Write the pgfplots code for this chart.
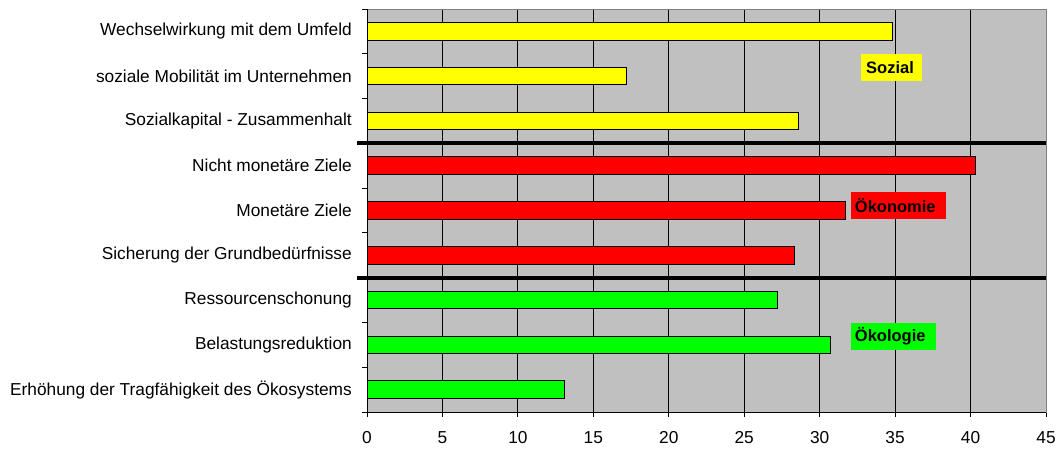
\documentclass[border=0pt]{standalone}
\usepackage{fontspec}
\setmainfont{Liberation Sans}
\usepackage{pgfplots}
\pgfplotsset{compat=1.18}
\definecolor{plotbg}{HTML}{C0C0C0}
\definecolor{sozial}{HTML}{FFFF00}
\definecolor{oekonomie}{HTML}{FF0000}
\definecolor{oekologie}{HTML}{00FF00}
\begin{document}
\begin{tikzpicture}[x=1pt,y=1pt]
\useasboundingbox (0,0) rectangle (1059,448);
\begin{axis}[
  at={(367pt,36pt)}, anchor=south west,
  scale only axis, width=679pt, height=403pt,
  xmin=0, xmax=45, ymin=0.5, ymax=9.5,
  clip=false,
  xbar, bar width=17.6pt, bar shift=0pt,
  axis background/.style={fill=plotbg},
  axis line style={draw=gray, line width=0.8pt},
  font=\fontsize{17.3}{20}\selectfont,
  /pgf/number format/assume math mode=true,
  xtick={0,5,...,45},
  xtick pos=bottom, ytick pos=left,
  tick align=outside, major tick length=5pt,
  tick style={black, line width=0.8pt},
  xmajorgrids, grid style={black, line width=0.8pt},
  xticklabel style={inner sep=0pt, yshift=-14pt},
  ytick={1,...,9},
  yticklabels={Erhöhung der Tragfähigkeit des Ökosystems, Belastungsreduktion, Ressourcenschonung, Sicherung der Grundbedürfnisse, Monetäre Ziele, Nicht monetäre Ziele, Sozialkapital - Zusammenhalt, soziale Mobilität im Unternehmen, Wechselwirkung mit dem Umfeld},
  yticklabel style={inner sep=0pt, xshift=-10pt},
  ytick style={draw=none},
  extra y ticks={0.5,1.5,...,9.5}, extra y tick labels={},
  extra y tick style={ytick style={draw=black, line width=0.8pt}},
]
% Ökologie
\addplot[draw=black, line width=1pt, fill=oekologie] coordinates {(13.1,1) (30.7,2) (27.2,3)};
% Ökonomie
\addplot[draw=black, line width=1pt, fill=oekonomie] coordinates {(28.3,4) (31.7,5) (40.3,6)};
% Sozial
\addplot[draw=black, line width=1pt, fill=sozial] coordinates {(28.6,7) (17.2,8) (34.8,9)};

% left and bottom axis lines in black
\draw[black, line width=0.8pt] (rel axis cs:0,1) -- (rel axis cs:0,0) -- (rel axis cs:1,0);
% group separators
\draw[black, line width=4pt] ([xshift=-10pt]axis cs:0,3.5) -- (axis cs:45,3.5);
\draw[black, line width=4pt] ([xshift=-10pt]axis cs:0,6.5) -- (axis cs:45,6.5);

% group labels
\node[fill=sozial, anchor=west, inner xsep=5pt, inner ysep=0pt, minimum height=27pt, text width=51pt, font=\bfseries\fontsize{16.5}{18}\selectfont] at (axis cs:32.74,8.19) {Sozial};
\node[fill=oekonomie, anchor=west, inner xsep=4pt, inner ysep=0pt, minimum height=27pt, text width=87pt, font=\bfseries\fontsize{16.5}{18}\selectfont] at (axis cs:32.06,5.11) {Ökonomie};
\node[fill=oekologie, anchor=west, inner xsep=4pt, inner ysep=0pt, minimum height=27pt, text width=77pt, font=\bfseries\fontsize{16.5}{18}\selectfont] at (axis cs:32.06,2.19) {Ökologie};
\end{axis}
\end{tikzpicture}
\end{document}
